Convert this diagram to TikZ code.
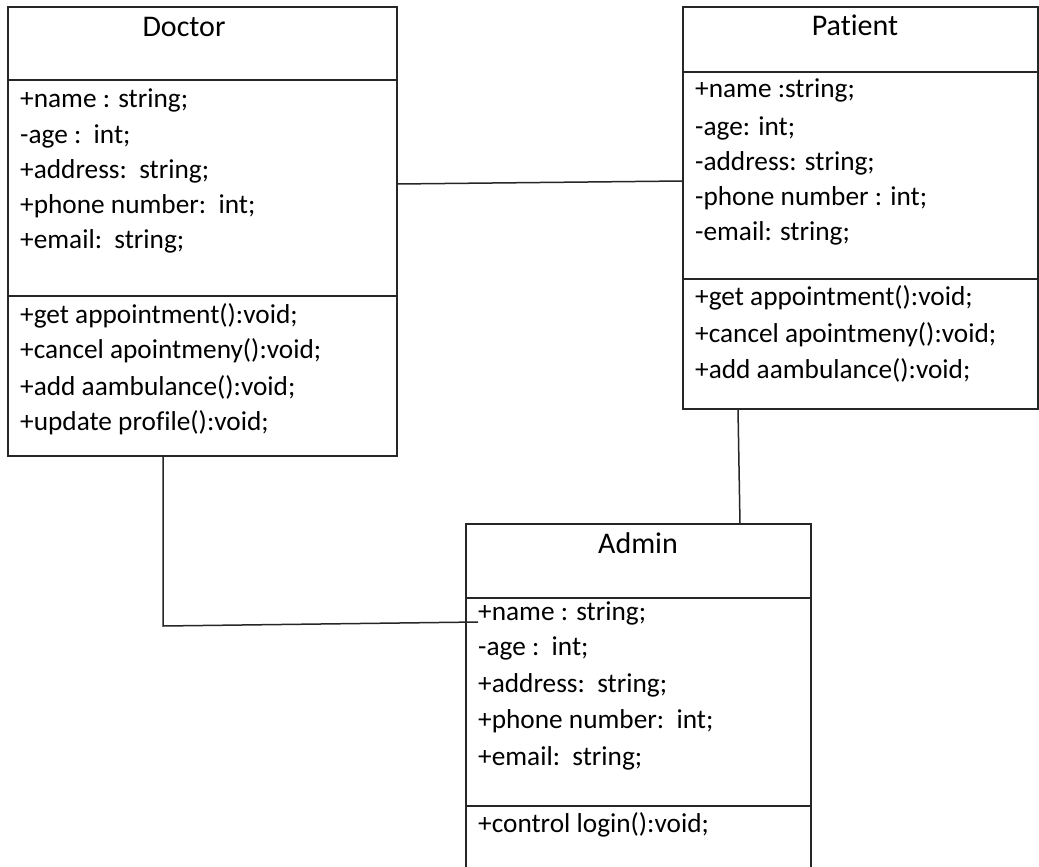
\documentclass[tikz,border=0pt]{standalone}
\usepackage{fontspec}
\setmainfont[Ligatures=NoCommon]{Carlito}
\begin{document}
\begin{tikzpicture}[x=1pt,y=-1pt,
  box/.style={draw=black!85,line width=1.5pt},
  sep/.style={draw=black!85,line width=1.5pt},
  conn/.style={draw=black!85,line width=1.5pt},
  ttl/.style={anchor=base,inner sep=0pt,font=\fontsize{30}{36}\selectfont},
  txt/.style={anchor=base west,inner sep=0pt,font=\fontsize{27.3}{33}\selectfont}]
\clip (0,0) rectangle (1039,867);
\fill[white] (0,0) rectangle (1039,867);
% Doctor
\draw[box] (8,7) rectangle (397,456);
\draw[sep] (8,80) -- (397,80);
\draw[sep] (8,296) -- (397,296);
\node[ttl] (dt) at (184,37) {Doctor};
\node[txt] (d1) at (20,107) {+name : string;};
\node[txt] (d2) at (20,143) {-age :\ \ int;};
\node[txt] (d3) at (20,178) {+address:\ \ string;};
\node[txt] (d4) at (20,213) {+phone number:\ \ int;};
\node[txt] (d5) at (20,248) {+email:\ \ string;};
\node[txt] (d6) at (20,323) {+get appointment():void;};
\node[txt] (d7) at (20,358) {+cancel apointmeny():void;};
\node[txt] (d8) at (20,395) {+add aambulance():void;};
\node[txt] (d9) at (20,430) {+update profile():void;};
% Patient
\draw[box] (683,7) rectangle (1038,409);
\draw[sep] (683,72) -- (1038,72);
\draw[sep] (683,279) -- (1038,279);
\node[ttl] (pt) at (855,36) {Patient};
\node[txt] (p1) at (695,98) {+name :string;};
\node[txt] (p2) at (695,135) {-age: int;};
\node[txt] (p3) at (695,170) {-address: string;};
\node[txt] (p4) at (695,205) {-phone number : int;};
\node[txt] (p5) at (695,240) {-email: string;};
\node[txt] (p6) at (695,305) {+get appointment():void;};
\node[txt] (p7) at (695,342) {+cancel apointmeny():void;};
\node[txt] (p8) at (695,378) {+add aambulance():void;};
% Admin
\draw[box] (466,890) -- (466,524) -- (811,524) -- (811,890);
\draw[sep] (466,598) -- (811,598);
\draw[sep] (466,806) -- (811,806);
\node[ttl] (at) at (638,553) {Admin};
\node[txt] (a1) at (478,620) {+name : string;};
\node[txt] (a2) at (478,655) {-age :\ \ int;};
\node[txt] (a3) at (478,692) {+address:\ \ string;};
\node[txt] (a4) at (478,728) {+phone number:\ \ int;};
\node[txt] (a5) at (478,765) {+email:\ \ string;};
\node[txt] (a6) at (478,832) {+control login():void;};
% connectors
\coordinate (dpA) at (397,184);
\coordinate (dpB) at (683,181);
\coordinate (paA) at (738,409);
\coordinate (paB) at (740,524);
\coordinate (daA) at (163,456);
\coordinate (daK) at (163,626);
\coordinate (daB) at (478,622);
\draw[conn] (dpA) -- (dpB);
\draw[conn] (paA) -- (paB);
\draw[conn] (daA) -- (daK) -- (daB);
\end{tikzpicture}
\end{document}
